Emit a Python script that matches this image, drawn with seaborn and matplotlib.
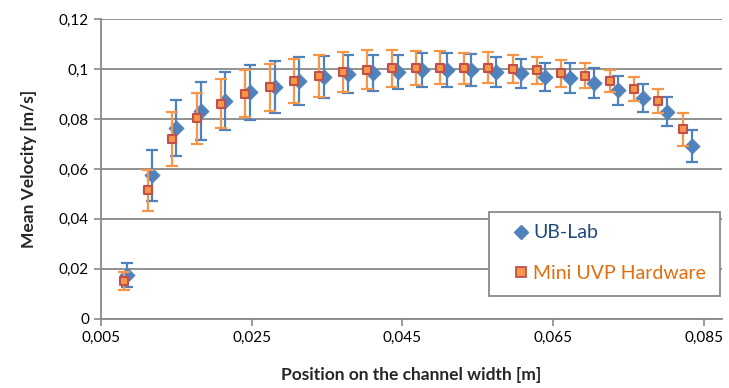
import matplotlib
matplotlib.use('Agg')
import numpy as np
import pandas as pd
import matplotlib.pyplot as plt
import seaborn as sns
from matplotlib.lines import Line2D
from matplotlib.patches import Rectangle

# positions on the channel width [m]
ub_x = [0.0085, 0.0118, 0.0150, 0.0183, 0.0215, 0.0248, 0.0281, 0.0313, 0.0346, 0.0378, 0.0411, 0.0444,
        0.0476, 0.0509, 0.0541, 0.0574, 0.0607, 0.0639, 0.0672, 0.0704, 0.0737, 0.0770, 0.0802, 0.0835]
ub_y = [0.0175, 0.0574, 0.0762, 0.0831, 0.0873, 0.0906, 0.0929, 0.0953, 0.0969, 0.0980, 0.0985, 0.0989,
        0.0996, 0.0996, 0.0996, 0.0989, 0.0983, 0.0969, 0.0963, 0.0945, 0.0915, 0.0884, 0.0829, 0.0692]
ub_err = [0.0047, 0.0103, 0.0112, 0.0117, 0.0116, 0.0111, 0.0105, 0.0097, 0.0085, 0.0077, 0.0072, 0.0068,
          0.0069, 0.0067, 0.0063, 0.0060, 0.0059, 0.0056, 0.0060, 0.0060, 0.0058, 0.0058, 0.0057, 0.0063]

uvp_x = [0.0081, 0.0113, 0.0145, 0.0178, 0.0210, 0.0242, 0.0274, 0.0307, 0.0339, 0.0371, 0.0403, 0.0436,
         0.0468, 0.0500, 0.0532, 0.0564, 0.0597, 0.0629, 0.0661, 0.0693, 0.0726, 0.0758, 0.0790, 0.0822]
uvp_y = [0.0151, 0.0514, 0.0719, 0.0803, 0.0861, 0.0901, 0.0927, 0.0953, 0.0971, 0.0988, 0.0997, 0.1003,
         0.1003, 0.1006, 0.1003, 0.1006, 0.1001, 0.0995, 0.0983, 0.0973, 0.0951, 0.0920, 0.0873, 0.0759]
uvp_err = [0.0037, 0.0081, 0.0107, 0.0102, 0.0098, 0.0095, 0.0094, 0.0088, 0.0084, 0.0081, 0.0079, 0.0073,
           0.0068, 0.0066, 0.0063, 0.0063, 0.0057, 0.0055, 0.0054, 0.0050, 0.0044, 0.0047, 0.0049, 0.0066]

x_ticks = [0.005, 0.025, 0.045, 0.065, 0.085]
x_tick_labels = ['0,005', '0,025', '0,045', '0,065', '0,085']
y_ticks = [0, 0.02, 0.04, 0.06, 0.08, 0.1, 0.12]
y_tick_labels = ['0', '0,02', '0,04', '0,06', '0,08', '0,1', '0,12']

blue = '#4F81BD'
orange = '#F79646'
red_edge = '#C0504D'
grey = '#898989'

sns.set_style('white')
plt.rcParams['font.family'] = ['Lato', 'DejaVu Sans']

fig = plt.figure(figsize=(7.29, 3.88), dpi=100)
ax = fig.add_axes([0.1383, 0.1786, 0.8517, 0.7722])

df_ub = pd.DataFrame({'x': ub_x, 'y': ub_y})
df_uvp = pd.DataFrame({'x': uvp_x, 'y': uvp_y})

ax.errorbar(ub_x, ub_y, yerr=ub_err, fmt='none', ecolor=blue, elinewidth=1.6,
            capsize=4.5, capthick=1.6, zorder=3)
sns.scatterplot(data=df_ub, x='x', y='y', ax=ax, marker='D', s=60, color=blue,
                edgecolor=blue, linewidth=0.5, zorder=4)
ax.errorbar(uvp_x, uvp_y, yerr=uvp_err, fmt='none', ecolor=orange, elinewidth=1.6,
            capsize=4.5, capthick=1.6, zorder=5)
sns.scatterplot(data=df_uvp, x='x', y='y', ax=ax, marker='s', s=40, color=orange,
                edgecolor=red_edge, linewidth=1.5, zorder=6)

ax.set_xlim(0.005, 0.0874)
ax.set_ylim(0, 0.12)
ax.set_xticks(x_ticks)
ax.set_xticklabels(x_tick_labels)
ax.set_yticks(y_ticks)
ax.set_yticklabels(y_tick_labels)
ax.tick_params(axis='both', labelsize=11, colors=grey, labelcolor='#000000',
               length=5, width=1.2, direction='out', left=True, bottom=True)
ax.yaxis.grid(True, color=grey, linewidth=1.3)
ax.set_axisbelow(True)
for side in ['top', 'right']:
    ax.spines[side].set_visible(False)
for side in ['left', 'bottom']:
    ax.spines[side].set_color(grey)
    ax.spines[side].set_linewidth(1.3)

ax.set_xlabel('Position on the channel width [m]', fontsize=12.5, fontweight='bold', labelpad=16)
ax.set_ylabel('Mean Velocity [m/s]', fontsize=12.5, fontweight='bold', labelpad=16)

# legend box drawn as its own frame, entries placed inside
ax.add_patch(Rectangle((0.625, 0.0758), 0.372, 0.28, transform=ax.transAxes,
                       facecolor='white', edgecolor=grey, linewidth=1.3, zorder=10))
handles = [Line2D([], [], marker='D', color=blue, linestyle='none', markersize=7),
           Line2D([], [], marker='s', markerfacecolor=orange, markeredgecolor=red_edge,
                  markeredgewidth=1.3, linestyle='none', markersize=6.5)]
leg = ax.legend(handles, ['UB-Lab', 'Mini UVP Hardware'], loc='center left',
                bbox_to_anchor=(0.665, 0.219), fontsize=14, frameon=False,
                borderpad=0, labelspacing=1.2, handletextpad=0.2,
                handlelength=0.8, borderaxespad=0)
leg.set_zorder(11)
leg.get_texts()[0].set_color('#1F497D')
leg.get_texts()[1].set_color('#E46C0A')

fig.savefig('out.png', dpi=100)
